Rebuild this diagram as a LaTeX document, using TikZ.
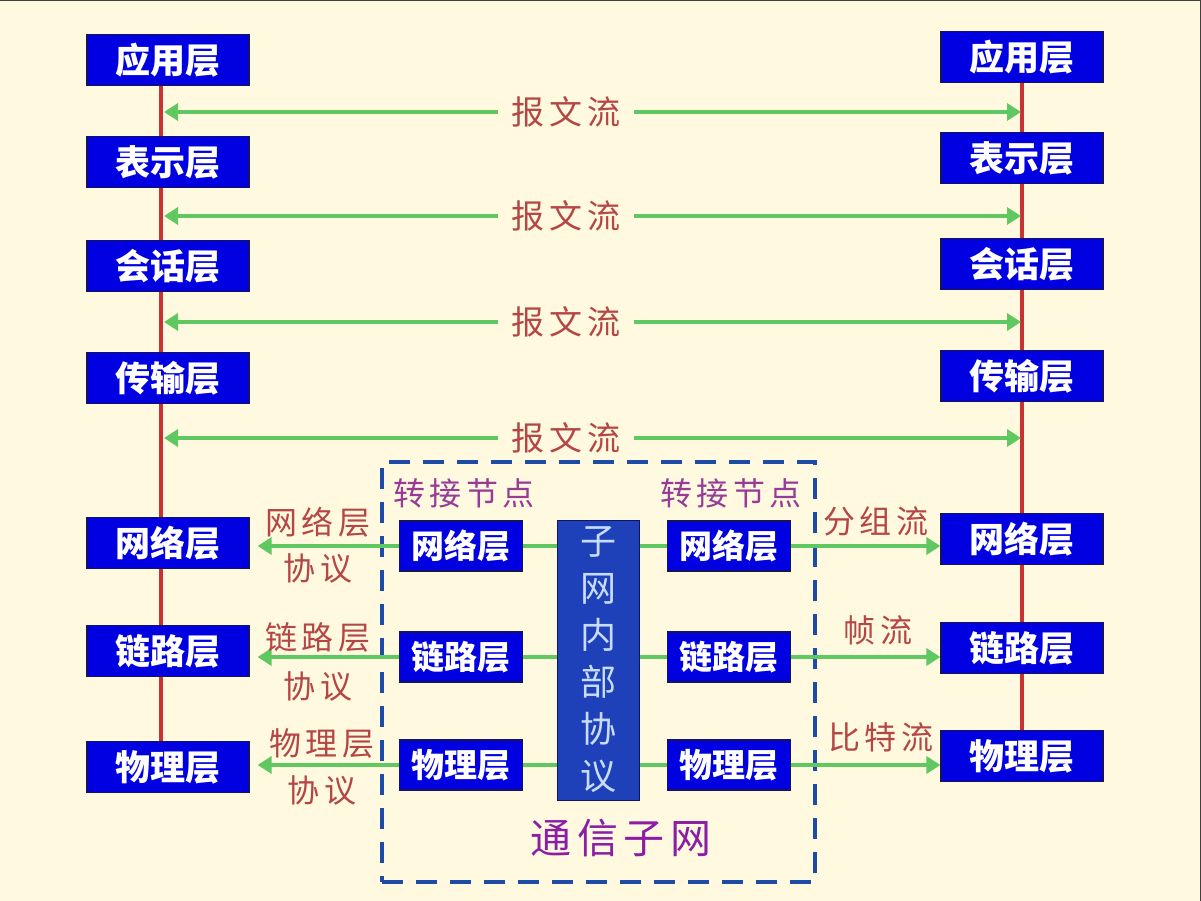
\documentclass[tikz,border=0pt]{standalone}
\usepackage{fontspec}
\usetikzlibrary{arrows.meta}
\newfontfamily\cjk{Noto Sans CJK SC}
\newfontfamily\cjksp[LetterSpace=14]{Noto Sans CJK SC}
\definecolor{bg}{RGB}{255,250,223}
\definecolor{boxblue}{RGB}{0,0,225}
\definecolor{boxedge}{RGB}{20,20,90}
\definecolor{cenblue}{RGB}{30,64,185}
\definecolor{centext}{RGB}{200,220,255}
\definecolor{flowgreen}{RGB}{96,200,96}
\definecolor{redline}{RGB}{200,50,50}
\definecolor{labred}{RGB}{180,70,70}
\definecolor{nodepurple}{RGB}{150,60,150}
\definecolor{netpurple}{RGB}{140,30,165}
\definecolor{dashblue}{RGB}{30,75,165}
\tikzset{
  layer/.style={draw=boxedge, line width=1.2pt, fill=boxblue, text=white,
    font=\cjk\bfseries\fontsize{35}{35}\selectfont, minimum width=162, minimum height=51, inner sep=0pt},
  inner/.style={layer, font=\cjk\bfseries\fontsize{33}{33}\selectfont, minimum width=123, minimum height=50},
  flow/.style={draw=flowgreen, line width=4.5pt},
  flowarrow/.style={flow, -{Triangle[length=14pt,width=17pt]}},
  stack/.style={draw=redline, line width=4pt},
  lab/.style={text=labred, font=\cjksp\fontsize{32}{32}\selectfont, inner sep=0pt},
  msg/.style={lab, font=\cjksp\fontsize{33}{33}\selectfont, inner xsep=14pt},
  purple/.style={text=nodepurple, font=\cjksp\fontsize{32}{32}\selectfont, inner sep=0pt}
}
\begin{document}
\begin{tikzpicture}[x=1pt,y=-1pt]
\fill[bg] (0,0) rectangle (1201,901);
\useasboundingbox (0,0) rectangle (1201,901);
\draw[black!75, line width=3pt] (0,0) -- (1201,0);
\draw[black!75, line width=3pt] (1201,0) -- (1201,901);

% left stack
\node[layer] (a1) at (168,60) {应用层};
\node[layer] (a2) at (168,162) {表示层};
\node[layer] (a3) at (168,266) {会话层};
\node[layer] (a4) at (168,378) {传输层};
\node[layer] (a5) at (168,543) {网络层};
\node[layer] (a6) at (168,651) {链路层};
\node[layer] (a7) at (168,767) {物理层};
% right stack
\node[layer] (b1) at (1022,57) {应用层};
\node[layer] (b2) at (1022,158) {表示层};
\node[layer] (b3) at (1022,264) {会话层};
\node[layer] (b4) at (1022,376) {传输层};
\node[layer] (b5) at (1022,539) {网络层};
\node[layer] (b6) at (1022,648) {链路层};
\node[layer] (b7) at (1022,756) {物理层};

\foreach \i/\j in {1/2,2/3,3/4,4/5,5/6,6/7}{
  \draw[stack] ([xshift=-7pt]a\i.south) -- ([xshift=-7pt]a\j.north);
  \draw[stack] (b\i.south) -- (b\j.north);
}

% message flows
\foreach \k/\y in {1/112,2/216,3/322,4/438}{
  \node[msg] (m\k) at (566,\y) {报文流};
  \coordinate (ml\k) at (164,\y);
  \coordinate (mr\k) at (1021,\y);
  \draw[flowarrow] (m\k.west) -- (ml\k);
  \draw[flowarrow] (m\k.east) -- (mr\k);
}

% communication subnet
\node[draw=dashblue, line width=4.5pt, dash pattern=on 21pt off 13pt, minimum width=433, minimum height=420, inner sep=0pt] (sub) at (598.5,672) {};
\node[fill=cenblue, draw=boxedge, line width=1pt, minimum width=82, minimum height=280, inner sep=0pt, text=centext,
  font=\cjk\fontsize{36}{47}\selectfont, align=center] (cen) at (598,660) {子\\网\\内\\部\\协\\议};

\node[inner] (l5) at (461,546) {网络层};
\node[inner] (l6) at (461,657) {链路层};
\node[inner] (l7) at (461,765) {物理层};
\node[inner] (r5) at (729,546) {网络层};
\node[inner] (r6) at (729,657) {链路层};
\node[inner] (r7) at (729,765) {物理层};

\node[purple] (t1) at (464,493) {转接节点};
\node[purple] (t2) at (731,493) {转接节点};
\node[text=netpurple, font=\cjksp\fontsize{41}{41}\selectfont, inner sep=0pt] (tx) at (621,838) {通信子网};

\foreach \n/\m in {5/a5,6/a6,7/a7}{
  \draw[flowarrow, shorten >=8pt] (l\n.west) -- (\m.east |- l\n.west);
  \draw[flow] (l\n.east) -- (cen.west |- l\n.east);
  \draw[flow] (cen.east |- r\n.west) -- (r\n.west);
}
\draw[flowarrow] (r5.east) -- (b5.west |- r5.east);
\draw[flowarrow] (r6.east) -- (b6.west |- r6.east);
\draw[flowarrow] (r7.east) -- (b7.west |- r7.east);

% protocol labels
\node[lab] (p5a) at (318,522) {网络层};
\node[lab] (p5b) at (318,568) {协议};
\node[lab] (p6a) at (318,637) {链路层};
\node[lab] (p6b) at (318,686) {协议};
\node[lab] (p7a) at (322,743) {物理层};
\node[lab] (p7b) at (322,790) {协议};
\node[lab] (f5) at (876,521) {分组流};
\node[lab] (f6) at (878,630) {帧流};
\node[lab] (f7) at (881,737) {比特流};
\end{tikzpicture}
\end{document}
